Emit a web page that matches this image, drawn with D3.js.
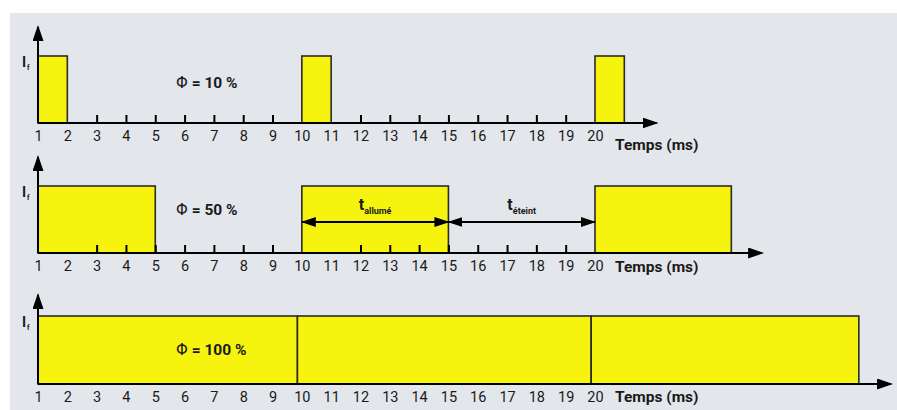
<!DOCTYPE html>
<html><head><meta charset="utf-8">
<script src="https://cdn.jsdelivr.net/npm/d3@7"></script>
<style>
html,body{margin:0;padding:0;background:#fff;}
svg{display:block;}
text{font-family:Roboto,"DejaVu Sans Condensed",sans-serif;fill:#1a1a1a;}
</style></head>
<body>
<script>
// ---- data ----
const tickLabels = [1,2,3,4,5,6,7,8,9,10,11,12,13,14,15,16,17,18,19,20];
const tickMarks = [3,4,5,6,7,8,9,12,13,14,15,16,17,18,19];
const dutyValues = ["10 %", "50 %", "100 %"];
const pulses10 = [[1,2],[10,11],[20,21]];
const pulses50 = [[1,5],[10,15],[20,24.65]];
const pulses100 = [[1,9.85],[9.85,19.87],[19.87,29]];
const axisEnds = [22.1, 25.7, 30.1];
const tOn = [10,15];
const tOff = [15,20];
const xLabel = "Temps (ms)";

// ---- layout ----
const W = 897, H = 410;
const svg = d3.select("body").append("svg").attr("width",W).attr("height",H);
svg.append("rect").attr("x",10).attr("y",13).attr("width",W-10).attr("height",H-13).attr("fill","#e3e6ea");

const x = d3.scaleLinear().domain([1,20]).range([38,595]);
const rows = [
  {base:123, top:56, tip:27, pulses:pulses10, marks:tickMarks, label:dutyValues[0], lx:176, ly:82, tempsDy:21},
  {base:253, top:186, tip:157, pulses:pulses50, marks:tickMarks, label:dutyValues[1], lx:176, ly:209, tempsDy:13},
  {base:384, top:316, tip:295, pulses:pulses100, marks:[], label:dutyValues[2], lx:176, ly:349, tempsDy:12}
];

const defs = svg.append("defs");
function marker(id, path, w, h, refX, refY){
  defs.append("marker").attr("id",id).attr("viewBox",`0 0 ${w} ${h}`)
    .attr("markerWidth",w).attr("markerHeight",h).attr("refX",refX).attr("refY",refY)
    .attr("markerUnits","userSpaceOnUse").attr("orient","auto")
    .append("path").attr("d",path).attr("fill","#000");
}
marker("ah","M0,0 L16,5.5 L0,11 Z",16,11,14,5.5);
marker("ahs","M0,0 L15,5 L0,10 Z",15,10,14,5);
marker("ahsStart","M15,0 L0,5 L15,10 Z",15,10,1,5);

rows.forEach((r,i)=>{
  const g = svg.append("g");
  const y = d3.scaleLinear().domain([0,1]).range([r.base,r.top]);
  // pulses
  g.selectAll("rect.p").data(r.pulses).join("rect").attr("class","p")
    .attr("x",d=>x(d[0])).attr("y",y(1))
    .attr("width",d=>x(d[1])-x(d[0])).attr("height",y(0)-y(1))
    .attr("fill","#f6f30f").attr("stroke","#2b2b2b").attr("stroke-width",1.6);
  // x axis line with arrow
  g.append("line").attr("x1",x(1)).attr("x2",x(axisEnds[i])).attr("y1",r.base).attr("y2",r.base)
    .attr("stroke","#000").attr("stroke-width",2).attr("marker-end","url(#ah)");
  // y axis with arrow
  g.append("line").attr("x1",x(1)).attr("x2",x(1)).attr("y1",r.base).attr("y2",r.tip)
    .attr("stroke","#000").attr("stroke-width",2).attr("marker-end","url(#ah)");
  // tick marks
  const axMarks = d3.axisTop(x).tickValues(r.marks).tickSize(8).tickFormat("");
  const gm = g.append("g").attr("transform",`translate(0,${r.base})`).call(axMarks);
  gm.select(".domain").remove();
  gm.selectAll(".tick line").attr("stroke","#000").attr("stroke-width",2);
  // tick labels
  const axLab = d3.axisBottom(x).tickValues(tickLabels).tickSize(0).tickPadding(0).tickFormat(d3.format("d"));
  const gl = g.append("g").attr("transform",`translate(0,${r.base})`).call(axLab);
  gl.select(".domain").remove();
  gl.selectAll(".tick text").attr("dy",null).attr("y",18).attr("font-size",14.5)
    .attr("font-family","Roboto, sans-serif").attr("fill","#1a1a1a");
  // x label
  g.append("text").attr("x",615).attr("y",r.base+r.tempsDy+5.5).attr("font-size",15.5)
    .attr("font-weight","bold").text(xLabel);
  // I_f
  const t = g.append("text").attr("x",22).attr("y",r.top+10.5).attr("font-size",14).attr("font-weight","bold");
  t.append("tspan").text("I");
  t.append("tspan").attr("font-size",7).attr("dy",3).attr("dx",1).text("f");
  // duty label
  const dl = g.append("text").attr("x",r.lx).attr("y",r.ly+5.5).attr("font-size",15.5).attr("font-weight","bold");
  dl.append("tspan").attr("font-weight","normal").attr("font-family","'DejaVu Sans', sans-serif").attr("font-size",15).text("Φ");
  dl.append("tspan").text(" = " + r.label);
});

// t_allumé / t_éteint arrows on row 2
const ay = 222;
[[tOn,"allumé"],[tOff,"éteint"]].forEach(([rng,sub])=>{
  svg.append("line").attr("x1",x(rng[0])).attr("x2",x(rng[1])).attr("y1",ay).attr("y2",ay)
    .attr("stroke","#000").attr("stroke-width",2)
    .attr("marker-start","url(#ahsStart)").attr("marker-end","url(#ahs)");
  const cx = (x(rng[0])+x(rng[1]))/2;
  const t = svg.append("text").attr("x",cx).attr("y",210).attr("text-anchor","middle").attr("font-weight","bold");
  t.append("tspan").attr("font-size",16).text("t");
  t.append("tspan").attr("font-size",9).attr("dy",4).text(sub);
});
</script>
</body></html>
